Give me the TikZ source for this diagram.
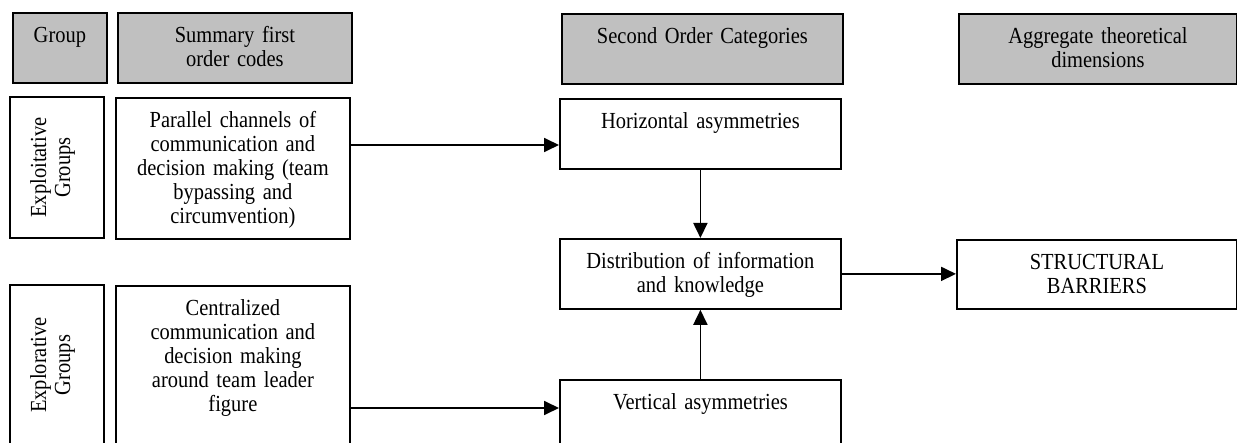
\documentclass[tikz,border=0pt]{standalone}
\usepackage{fontspec}
\setmainfont{Liberation Serif}[FakeStretch=0.89]
\usetikzlibrary{arrows.meta,calc}
\definecolor{hdrgray}{RGB}{192,192,192}
\begin{document}
\begin{tikzpicture}[x=1pt,y=-1pt,
  cell/.style={draw, line width=1.8pt, inner xsep=4pt, inner ysep=0pt, align=center,
    anchor=north west, text height=30pt, font={\fontsize{23pt}{24pt}\selectfont\spaceskip=4.6pt plus 1pt\relax}},
  hdr/.style={cell, fill=hdrgray},
  arr/.style={line width=1.8pt, -{Triangle[length=15pt,width=14pt]}}]
\useasboundingbox (0,0) rectangle (1237,443);
\clip (0,0) rectangle (1237,443);
% headers
\node[hdr, text width=86pt, text depth=40pt] (hgroup) at (12,12) {Group};
\node[hdr, text width=226pt, text depth=40pt] (hsum) at (117,12) {Summary first\\order codes};
\node[hdr, text width=273pt, text depth=40pt] (hsec) at (561,13) {Second Order Categories};
\node[hdr, text width=270pt, text depth=40pt] (hagg) at (958,13) {Aggregate theoretical\\dimensions};
% first row
\node[cell, rotate=90, anchor=center, text width=133pt, text height=36pt, text depth=58pt] (gexploit) at (57,167.5) {Exploitative\\Groups};
\node[cell, text width=226pt, text depth=111pt] (sum1) at (115,97) {Parallel channels of\\communication and\\decision making (team\\bypassing and\\circumvention)};
\node[cell, text width=273pt, text depth=40pt] (horiz) at (559,98) {Horizontal asymmetries};
\node[cell, text width=273pt, text depth=40pt] (dist) at (559,238) {Distribution of information\\and knowledge};
\node[cell, text width=272pt, text depth=39pt] (struct) at (956,239) {STRUCTURAL\\BARRIERS};
% second row
\node[cell, rotate=90, anchor=center, text width=152pt, text height=36pt, text depth=58pt] (gexplor) at (57,365) {Explorative\\Groups};
\node[cell, text width=226pt, text depth=140pt] (sum2) at (115,285) {Centralized\\communication and\\decision making\\around team leader\\figure};
\node[cell, text width=273pt, text depth=50pt] (vert) at (559,379) {Vertical asymmetries};
% connectors
\coordinate (a1) at ($(sum1.north east)+(0,48)$);
\draw[arr] (a1) -- (a1 -| horiz.west);
\draw[arr] (horiz.south) -- (dist.north);
\draw[arr] (vert.north) -- (dist.south);
\draw[arr] (dist.east) -- (dist.east -| struct.west);
\coordinate (a5) at ($(sum2.north east)+(0,123)$);
\draw[arr] (a5) -- (a5 -| vert.west);
\end{tikzpicture}
\end{document}
